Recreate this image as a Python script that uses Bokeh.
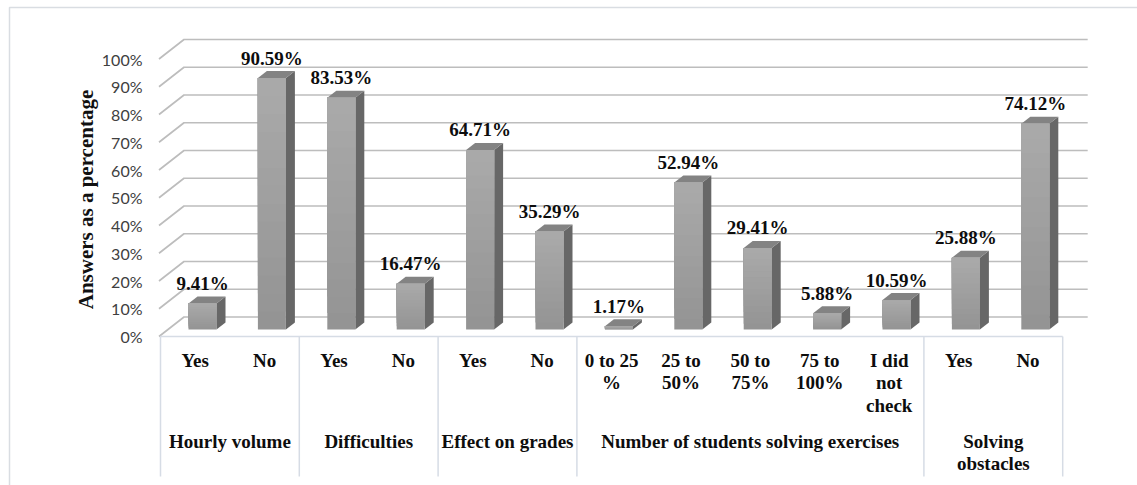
import numpy as np
from bokeh.plotting import figure
from bokeh.models import Range1d, ColumnDataSource
from bokeh.core.properties import value
from bokeh.embed import file_html
from bokeh.resources import INLINE

# ---- data -------------------------------------------------------------
answers = ["Yes", "No", "Yes", "No", "Yes", "No",
           "0 to 25\n%", "25 to\n50%", "50 to\n75%", "75 to\n100%", "I did\nnot\ncheck",
           "Yes", "No"]
percentages = [9.41, 90.59, 83.53, 16.47, 64.71, 35.29,
               1.17, 52.94, 29.41, 5.88, 10.59, 25.88, 74.12]
groups = ["Hourly volume", "Difficulties", "Effect on grades",
          "Number of students solving exercises", "Solving\nobstacles"]
group_sizes = [2, 2, 2, 5, 2]
y_ticks = [0, 10, 20, 30, 40, 50, 60, 70, 80, 90, 100]
y_tick_labels = ["0%", "10%", "20%", "30%", "40%", "50%", "60%", "70%", "80%", "90%", "100%"]
y_title = "Answers as a percentage"

# ---- canvas geometry (pixels) -------------------------------------------
W, H = 1137, 485
X0 = 160.0      # left end of the category axis, front plane
CW = 69.4       # width of one category band
Y0 = 336.0      # 0 % on the front plane
PY = 2.775      # pixels per percent

def dx(px):
    return px / CW

def dy(px):
    return px / PY

n = len(percentages)
vals = np.array(percentages)
idx = np.arange(n)

p = figure(width=W, height=H,
           x_range=Range1d(-X0 / CW, (W - X0) / CW),
           y_range=Range1d((Y0 - H) / PY, Y0 / PY),
           x_axis_type=None, y_axis_type=None,
           output_backend="svg", toolbar_location=None, min_border=0)
p.outline_line_color = None
p.background_fill_color = "white"
p.border_fill_color = "white"
p.grid.visible = False

SERIF = value("Liberation Serif")

# ---- outer chart border ----------------------------------------------
p.line([dx(9 - X0), dx(9 - X0), dx(W + 5 - X0)],
       [dy(Y0 - H - 5), dy(Y0 - 7), dy(Y0 - 7)],
       line_color="#d9dde2", line_width=1.5)

# ---- 3D walls: slanted side lines and back gridlines ---------------------
wall_dx, wall_dy = dx(25), dy(19.5)
x_front = dx(-1.5)
x_end = len(percentages) + wall_dx
gx, gy = [], []
for t in y_ticks:
    gx.append([x_front, x_front + wall_dx, x_end])
    gy.append([t, t + wall_dy, t + wall_dy])
p.multi_line(gx, gy, line_color="#bdbdbd", line_width=1.7)

# ---- y tick labels and title --------------------------------------------
p.text(x=[dx(142 - X0)] * len(y_ticks), y=y_ticks, text=y_tick_labels,
       text_align="right", text_baseline="middle",
       text_font=value("Lato"), text_font_size="16px", text_color="#404040")
p.text(x=[dx(85 - X0)], y=[dy(Y0 - 199)], text=[y_title], angle=np.pi / 2,
       text_align="center", text_baseline="middle",
       text_font=SERIF, text_font_style="bold",
       text_font_size="21px", text_color="#111111")

# ---- 3D columns -----------------------------------------------------------
bar_off, bar_w = dx(28), dx(28)
base = dy(7)
sdx, sdy = dx(9), dy(7)
left = idx + bar_off
right = left + bar_w
top = base + vals

side_xs = [[r, r + sdx, r + sdx, r] for r in right]
side_ys = [[base, base + sdy, t + sdy, t] for t in top]
p.patches(side_xs, side_ys, fill_color="#676767", line_color=None)

top_xs = [[l, r, r + sdx, l + sdx] for l, r in zip(left, right)]
top_ys = [[t, t, t + sdy, t + sdy] for t in top]
p.patches(top_xs, top_ys, fill_color="#838383", line_color=None)

# front faces with a soft vertical shading
steps = 14
c_bot = np.array([0x94, 0x94, 0x94])
c_top = np.array([0xab, 0xab, 0xab])
for k in range(steps):
    f = k / steps
    c = c_bot + (c_top - c_bot) * f
    col = "#%02x%02x%02x" % tuple(int(round(v)) for v in c)
    p.quad(left=left, right=right, bottom=base + vals * f, top=top,
           fill_color=col, line_color=None)

# ---- value labels ---------------------------------------------------------
lab = ColumnDataSource(dict(x=left + bar_w / 2, y=top + dy(20),
                            t=["%.2f%%" % v for v in percentages]))
p.text(x="x", y="y", text="t", source=lab, text_align="center",
       text_baseline="middle", text_font=SERIF,
       text_font_style="bold", text_font_size="19px", text_color="#0d0d0d")

# ---- category table ---------------------------------------------------
table_line = "#d6dce5"
y_tab_bottom = dy(Y0 - 476)
bounds = np.concatenate([[0], np.cumsum(group_sizes)])
tx = [[0, n]]
ty = [[0, 0]]
for b in bounds:
    tx.append([b, b])
    ty.append([0, y_tab_bottom])
p.multi_line(tx, ty, line_color=table_line, line_width=1.5)

line_step = dy(22.4)
cx, cy, ct = [], [], []
for i, a in enumerate(answers):
    for j, part in enumerate(a.split("\n")):
        cx.append(i + 0.5)
        cy.append(dy(Y0 - 360) - j * line_step)
        ct.append(part)
for g, (name, s) in enumerate(zip(groups, group_sizes)):
    for j, part in enumerate(name.split("\n")):
        cx.append(bounds[g] + s / 2)
        cy.append(dy(Y0 - 441) - j * line_step)
        ct.append(part)
p.text(x=cx, y=cy, text=ct, text_align="center", text_baseline="middle",
       text_font=SERIF, text_font_style="bold",
       text_font_size="19px", text_color="#0d0d0d")

open("out.html", "w").write(file_html(p, INLINE))
